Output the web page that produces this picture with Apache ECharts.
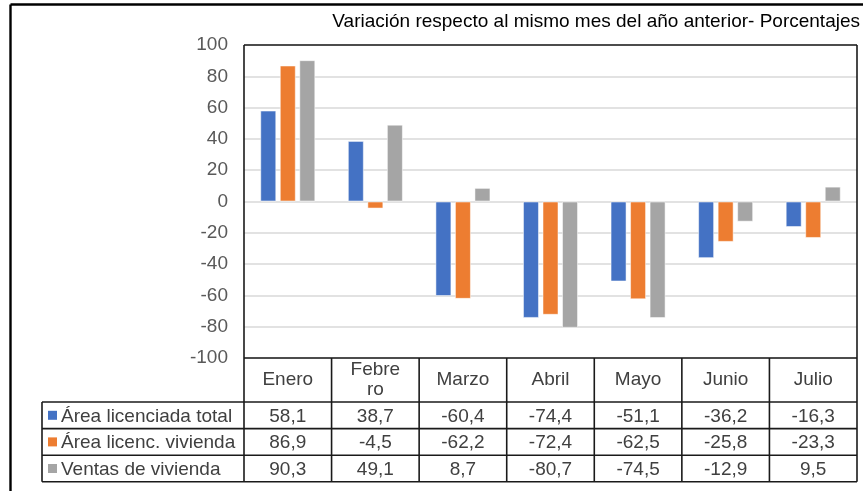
<!DOCTYPE html>
<html>
<head>
<meta charset="utf-8">
<script src="https://cdn.jsdelivr.net/npm/echarts@6/dist/echarts.min.js"></script>
<style>
html,body{margin:0;padding:0;background:#fff;}
#c{width:863px;height:491px;}
</style>
</head>
<body>
<div id="c"></div>
<script>
// ---- Data ----
const categories = ['Enero', 'Febrero', 'Marzo', 'Abril', 'Mayo', 'Junio', 'Julio'];
const categoryLabels = ['Enero', 'Febre\nro', 'Marzo', 'Abril', 'Mayo', 'Junio', 'Julio'];
const seriesNames = ['Área licenciada total', 'Área licenc. vivienda', 'Ventas de vivienda'];
const areaTotal = [58.1, 38.7, -60.4, -74.4, -51.1, -36.2, -16.3];
const areaVivienda = [86.9, -4.5, -62.2, -72.4, -62.5, -25.8, -23.3];
const ventasVivienda = [90.3, 49.1, 8.7, -80.7, -74.5, -12.9, 9.5];
const yTicks = [-100, -80, -60, -40, -20, 0, 20, 40, 60, 80, 100];
const titleText = 'Variación respecto al mismo mes del año anterior- Porcentajes';

const colors = ['#4472C4', '#ED7D31', '#A5A5A5'];
const FONT = '"Liberation Sans", Arial, sans-serif';
const FS = 19;
const seriesData = [areaTotal, areaVivienda, ventasVivienda];

const chart = echarts.init(document.getElementById('c'), null, {renderer: 'canvas'});

const option = {
  animation: false,
  backgroundColor: '#fff',
  grid: {left: 244, top: 45, right: 6, bottom: 133, containLabel: false},
  xAxis: {
    type: 'category',
    data: categories,
    axisLine: {show: false},
    axisTick: {show: false},
    splitLine: {show: false},
    position: 'bottom',
    axisLabel: {
      interval: 0,
      margin: 22,
      verticalAlign: 'middle',
      color: '#404040',
      fontFamily: FONT,
      fontSize: FS,
      lineHeight: 20,
      formatter: function (v, i) { return categoryLabels[i]; }
    }
  },
  yAxis: {
    type: 'value',
    min: yTicks[0],
    max: yTicks[yTicks.length - 1],
    interval: 20,
    axisLine: {show: false},
    axisTick: {show: false},
    splitLine: {show: true, lineStyle: {color: '#d9d9d9', width: 1.5}},
    axisLabel: {color: '#595959', fontFamily: FONT, fontSize: FS, margin: 16}
  },
  series: seriesData.map((d, k) => ({
    name: seriesNames[k],
    type: 'bar',
    data: d,
    barWidth: 16,
    barGap: '22%',
    itemStyle: {color: colors[k], borderColor: 'rgba(255,255,255,0.5)', borderWidth: 1}
  }))
};
chart.setOption(option);

// ---- Table / frame decoration, positioned from the axes ----
function buildGraphics() {
  const els = [];
  const n = categories.length;
  const c0 = chart.convertToPixel({xAxisIndex: 0}, categories[0]);
  const c1 = chart.convertToPixel({xAxisIndex: 0}, categories[1]);
  const bw = c1 - c0;
  const xLeft = c0 - bw / 2;
  const xRight = xLeft + bw * n;
  const yTop = chart.convertToPixel({yAxisIndex: 0}, yTicks[yTicks.length - 1]);
  const yBottom = chart.convertToPixel({yAxisIndex: 0}, yTicks[0]);
  const headerH = 44;
  const rowH = 26.6;
  const legendLeft = 42;
  const rowsTop = yBottom + headerH;
  const tableBottom = rowsTop + rowH * 3;
  const lineStyle = {stroke: '#1a1a1a', lineWidth: 1.6};
  const line = (x1, y1, x2, y2, st) => els.push({type: 'line', shape: {x1, y1, x2, y2}, style: st || lineStyle, z: 10});

  // outer frame
  line(10.5, 4.5, 870, 4.5, {stroke: '#000', lineWidth: 2.4});
  line(10.5, 4.5, 10.5, 495, {stroke: '#000', lineWidth: 2.4});

  // plot border
  line(xLeft, yTop, xRight, yTop);
  line(xLeft, yTop, xLeft, tableBottom);
  line(xRight, yTop, xRight, tableBottom);
  line(xLeft, yBottom, xRight, yBottom);

  // column separators
  for (let i = 1; i < n; i++) {
    const x = xLeft + bw * i;
    line(x, yBottom, x, tableBottom);
  }
  // row lines
  for (let r = 0; r <= 3; r++) {
    const y = rowsTop + rowH * r;
    line(legendLeft, y, xRight, y);
  }
  line(legendLeft, rowsTop, legendLeft, tableBottom);

  // legend cells
  for (let r = 0; r < 3; r++) {
    const cy = rowsTop + rowH * r + rowH / 2;
    els.push({type: 'rect', shape: {x: legendLeft + 6, y: cy - 4.5, width: 9, height: 9}, style: {fill: colors[r]}, z: 11});
    els.push({type: 'text', x: legendLeft + 19, y: cy + 1, style: {
      text: seriesNames[r], fill: '#404040', font: FS + 'px ' + FONT, textAlign: 'left', textVerticalAlign: 'middle'}, z: 11});
    for (let i = 0; i < n; i++) {
      const cx = xLeft + bw * i + bw / 2;
      els.push({type: 'text', x: cx, y: cy + 1, style: {
        text: seriesData[r][i].toFixed(1).replace('.', ','), fill: '#404040', font: FS + 'px ' + FONT,
        textAlign: 'center', textVerticalAlign: 'middle'}, z: 11});
    }
  }

  // title
  els.push({type: 'text', x: 860, y: 22, style: {
    text: titleText, fill: '#000', font: FS + 'px ' + FONT, textAlign: 'right', textVerticalAlign: 'middle'}, z: 11});
  return els;
}
chart.setOption({graphic: buildGraphics()});
</script>
</body>
</html>
